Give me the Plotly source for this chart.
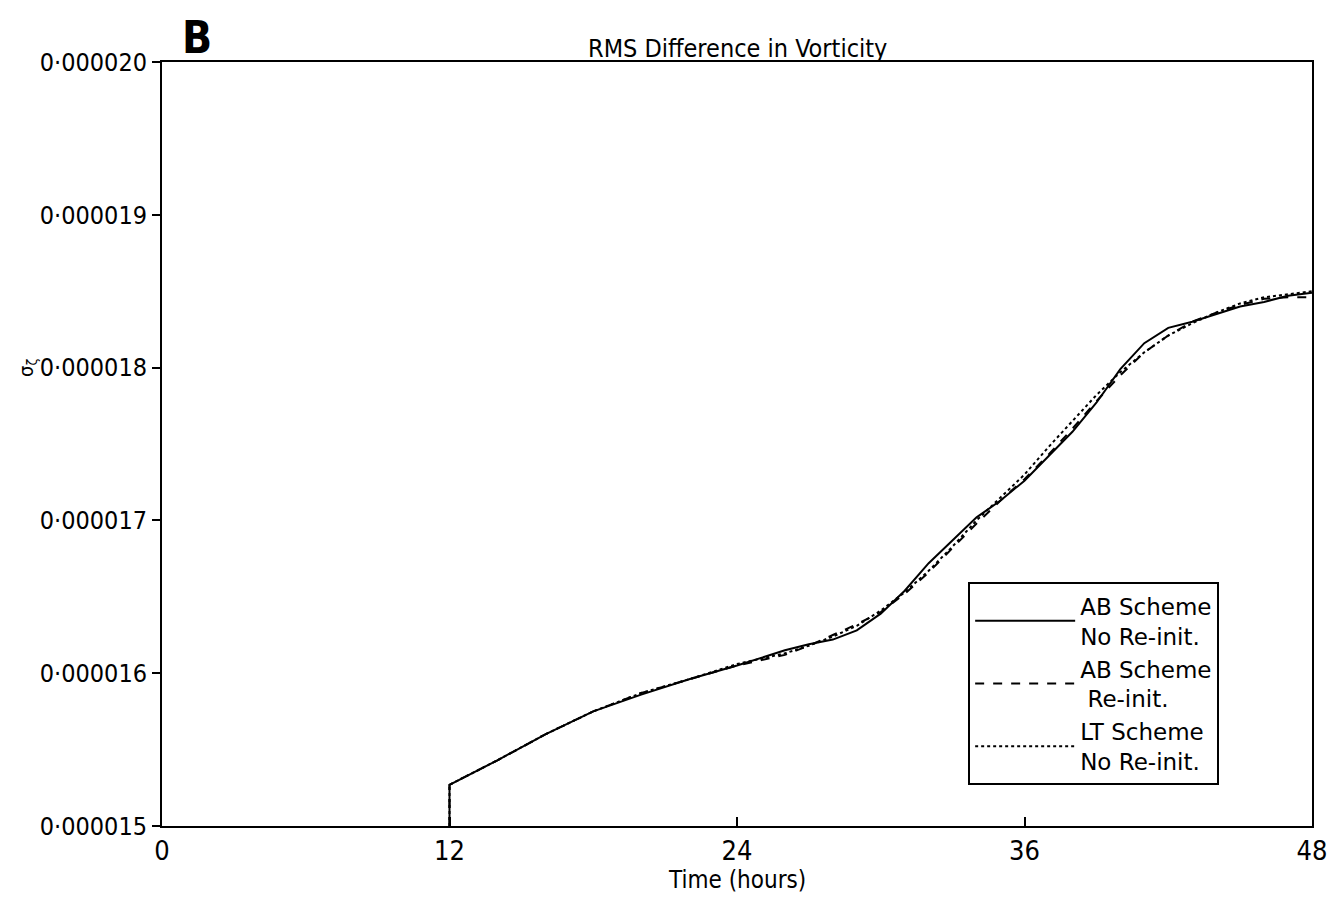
import plotly.graph_objects as go

# hours and sigma values (x 1e-6)
HOURS = [12, 12, 14, 16, 18, 20, 22, 24, 26, 27, 28, 29, 30, 31, 32, 33, 34,
         35, 36, 37, 38, 39, 40, 41, 42, 43, 44, 45, 46, 47, 48]

AB_NO_REINIT = [15.00, 15.27, 15.43, 15.60, 15.75, 15.86, 15.96, 16.05, 16.15,
                16.19, 16.22, 16.28, 16.39, 16.54, 16.72, 16.87, 17.02, 17.13,
                17.26, 17.42, 17.58, 17.77, 17.99, 18.16, 18.26, 18.30, 18.35,
                18.40, 18.43, 18.47, 18.49]

AB_REINIT = [15.00, 15.27, 15.43, 15.60, 15.75, 15.87, 15.96, 16.05, 16.12,
             16.18, 16.25, 16.32, 16.40, 16.52, 16.66, 16.82, 16.98, 17.13,
             17.27, 17.43, 17.60, 17.78, 17.95, 18.10, 18.21, 18.30, 18.36,
             18.41, 18.45, 18.46, 18.46]

LT_NO_REINIT = [15.00, 15.27, 15.43, 15.60, 15.75, 15.87, 15.96, 16.06, 16.13,
                16.18, 16.24, 16.31, 16.41, 16.53, 16.67, 16.83, 17.00, 17.15,
                17.30, 17.48, 17.65, 17.82, 17.97, 18.10, 18.21, 18.29, 18.36,
                18.42, 18.46, 18.48, 18.50]

X_TICKS = [0, 12, 24, 36, 48]
Y_TICKS = [15e-6, 16e-6, 17e-6, 18e-6, 19e-6, 20e-6]
Y_TICK_TEXT = ["0·000015", "0·000016", "0·000017", "0·000018", "0·000019", "0·000020"]

FONT = "DejaVu Sans Condensed, DejaVu Sans, sans-serif"

SERIES = [
    ("AB Scheme<br>No Re-init.", AB_NO_REINIT, "solid"),
    ("AB Scheme<br> Re-init.", AB_REINIT, "dash"),
    ("LT Scheme<br>No Re-init.", LT_NO_REINIT, "dot"),
]

fig = go.Figure()
for name, vals, dash in SERIES:
    fig.add_trace(go.Scatter(
        x=HOURS,
        y=[v * 1e-6 for v in vals],
        mode="lines",
        name=name,
        line=dict(color="black", width=2, dash=dash),
    ))

fig.update_layout(
    width=1338,
    height=899,
    paper_bgcolor="white",
    plot_bgcolor="white",
    margin=dict(l=154, r=34, t=54, b=81),
    font=dict(family=FONT, size=22, color="black"),
    showlegend=True,
    legend=dict(
        x=0.701, y=0.319, xanchor="left", yanchor="top",
        bordercolor="black", borderwidth=2, bgcolor="white",
        font=dict(size=23, family="DejaVu Sans, sans-serif"),
        itemwidth=100, tracegroupgap=0,
    ),
    annotations=[
        dict(text="RMS Difference in Vorticity", x=0.5, y=1.0,
             xref="paper", yref="paper", xanchor="center", yanchor="bottom",
             yshift=-3, showarrow=False, font=dict(size=25)),
        dict(text="<b>B</b>", x=0.03, y=1.032, xref="paper", yref="paper",
             xanchor="center", yanchor="middle", showarrow=False,
             font=dict(size=44, family=FONT)),
        dict(text="σ<sub>ζ</sub>", x=-0.118, y=0.6, xref="paper", yref="paper",
             xanchor="center", yanchor="middle",
             textangle=-90, showarrow=False, font=dict(size=20)),
        dict(text="Time (hours)", x=0.5, y=-0.0707, xref="paper", yref="paper",
             xanchor="center", yanchor="middle", showarrow=False,
             font=dict(size=24)),
    ],
)

fig.update_xaxes(
    range=[0, 48],
    tickvals=X_TICKS,
    ticks="inside", ticklen=9, tickwidth=2, tickcolor="black",
    showline=True, linecolor="black", linewidth=2, mirror=True,
    showgrid=False, zeroline=False,
    tickfont=dict(size=27),
)
fig.update_yaxes(
    range=[15e-6, 20e-6],
    tickvals=Y_TICKS, ticktext=Y_TICK_TEXT,
    ticks="outside", ticklen=8, tickwidth=2, tickcolor="black",
    showline=True, linecolor="black", linewidth=2, mirror=True,
    showgrid=False, zeroline=False,
    tickfont=dict(size=25),
)

fig.write_html("out.html")
